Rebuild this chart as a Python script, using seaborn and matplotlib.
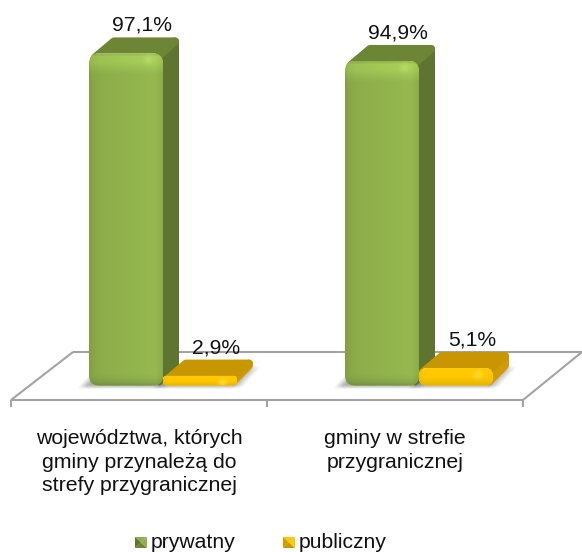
import numpy as np
import pandas as pd
import matplotlib.pyplot as plt
import seaborn as sns
from matplotlib.colors import to_rgb
from matplotlib.patches import FancyBboxPatch, Polygon
from matplotlib.transforms import IdentityTransform

categories = ["województwa, których\ngminy przynależą do\nstrefy przygranicznej",
              "gminy w strefie\nprzygranicznej"]
series_names = ["prywatny", "publiczny"]
prywatny = [97.1, 94.9]
publiczny = [2.9, 5.1]
value_labels = [["97,1%", "94,9%"], ["2,9%", "5,1%"]]

W, H = 582, 552
DEPTH = 16

# face colours per series: base, top, side
faces = {
    "prywatny": ("#8fb04b", "#6c8636", "#5d7530"),
    "publiczny": ("#ffc800", "#c79600", "#d09c00"),
}

df = pd.DataFrame({
    "category": categories * 2,
    "series": [series_names[0]] * 2 + [series_names[1]] * 2,
    "value": prywatny + publiczny,
})

sns.set_style("white")
plt.rcParams["font.family"] = ["Liberation Sans", "DejaVu Sans"]

fig = plt.figure(figsize=(W / 100, H / 100), dpi=100)
ax = fig.add_axes([0, 0, 1, 1])
sns.barplot(data=df, x="category", y="value", hue="series", hue_order=series_names,
            palette=[faces[s][0] for s in series_names], saturation=1, width=0.578,
            gap=0, legend=False, ax=ax)
ax.set_xlim(-163 / 256, (W - 163) / 256)
ax.set_ylim((385.5 - H) / 3.42, 385.5 / 3.42)
ax.set_autoscale_on(False)
ax.set_xticks([])
ax.set_yticks([])
ax.set_xlabel("")
ax.set_ylabel("")
sns.despine(ax=ax, left=True, bottom=True)

px = IdentityTransform()


def fy(y):
    return H - y


# floor
floor_col = "#a3a3a3"
for xs, ys in [([11, 523], [400, 400]), ([73, 582], [352, 352]),
               ([11, 73], [400, 352]), ([523, 582], [400, 352]),
               ([11, 11], [400, 407]), ([267, 267], [400, 407]), ([523, 523], [400, 407])]:
    ax.plot(xs, [fy(v) for v in ys], color=floor_col, lw=1.5, transform=px,
            solid_capstyle="butt", zorder=1)


def shade(col, w, h, gold=False):
    base = np.array(to_rgb(col))
    t = np.linspace(0, 1, max(w, 2))
    v = np.arange(max(h, 2))
    if gold:
        across = np.interp(t, [0, 0.05, 1], [0.95, 1, 1])
        down = np.interp(v / max(h - 1, 1), [0, 0.5, 1], [1.0, 1.0, 0.9])
    else:
        across = np.interp(t, [0, 0.04, 0.15, 0.78, 0.9, 1], [0.9, 0.95, 0.98, 1.04, 1.05, 0.98])
        down = np.interp(v, [0, 3, 9, 20, h - 12, h - 5, h - 1],
                         [1.0, 1.13, 1.12, 1.0, 1.0, 0.93, 0.82])
    return np.clip(base[None, None, :] * down[:, None, None] * across[None, :, None], 0, 1)


def draw_shadow(x0, x1, y0):
    # blurred grey shape sheared like the floor, around the foot of the bar
    x_lo, x_hi = x0 - 12, x1 + DEPTH + 14
    xs = np.arange(int(x_lo), int(x_hi))
    ys = np.arange(int(y0) - 4, int(y0) + 22)
    gx, gy = np.meshgrid(xs, ys)
    shift = (gy - y0) * 0.9
    ax_x = np.clip((gx - (x0 - 10 + shift)) / 9, 0, 1) * np.clip((x1 + 8 + shift - gx) / 11, 0, 1)
    ax_y = np.clip((gy - (y0 - 4)) / 4, 0, 1) * np.clip((y0 + 21 - gy) / 6, 0, 1)
    rgba = np.zeros((len(ys), len(xs), 4))
    rgba[..., :3] = 0.4
    rgba[..., 3] = 0.5 * ax_x * ax_y
    ax.imshow(rgba, extent=(xs[0], xs[-1], ys[0], ys[-1]), origin="lower", aspect="auto",
              transform=px, zorder=2, interpolation="bilinear")


def draw_bar(bar, label, name, z):
    base, top_col, side_col = faces[name]
    (x0, y0), (x1, y1) = ax.transData.transform(bar.get_bbox().get_points())
    gold = name == "publiczny"
    draw_shadow(x0, x1, y0)
    # side and top are inset and stroked with round joins, which rounds their corners
    inset = 4
    stroke = 2 * inset * 0.72
    left = 4 if gold else 6
    ax.add_patch(Polygon([(x1 - 4, y0 + 4), (x1 + DEPTH - inset, y0 + DEPTH + inset),
                          (x1 + DEPTH - inset, y1 + DEPTH - inset), (x1 - 4, y1 - 4)],
                         fc=side_col, ec=side_col, lw=stroke, joinstyle="round", transform=px, zorder=z))
    ax.add_patch(Polygon([(x0 + left, y1 - 4), (x0 + DEPTH + left + 3, y1 + DEPTH - inset),
                          (x1 + DEPTH - inset, y1 + DEPTH - inset), (x1 - 6, y1 - 4)],
                         fc=top_col, ec=top_col, lw=stroke, joinstyle="round", transform=px, zorder=z))
    # rounded front with shading
    rr = min(10, (y1 - y0) * 0.45)
    clip = FancyBboxPatch((x0, y0), x1 - x0, y1 - y0,
                          boxstyle=f"round,pad=0,rounding_size={rr}", fc="none", ec="none",
                          transform=px, zorder=z + 1)
    ax.add_patch(clip)
    bar.set_zorder(z + 1)
    bar.set_clip_path(clip)
    h = int(round(y1 - y0))
    w = int(round(x1 - x0))
    im = ax.imshow(shade(base, w, h, gold), extent=(x0, x1, y0, y1), origin="upper", aspect="auto",
                   transform=px, zorder=z + 2, interpolation="bilinear")
    im.set_clip_path(clip)
    # highlight at the upper right corner
    glow = "#ffe64d" if gold else "#c4e070"
    for s, a in [(90, 0.12), (45, 0.2), (15, 0.35)]:
        hl = ax.scatter([x1 - 15], [y1 - 6], s=s, color=glow, alpha=a, linewidths=0,
                        transform=px, zorder=z + 3)
        hl.set_clip_path(clip)
    ax.annotate(label, xy=(x0 + (x1 - x0) / 2 + 16, y1 + 28), xycoords=px, ha="center", va="center",
                fontsize=15.2, color="#111111", zorder=20)


for i, name in enumerate(series_names):
    for bar, label in zip(ax.containers[i], value_labels[i]):
        draw_bar(bar, label, name, 3 + 6 * i)

# category labels, centred on the front edge of the floor
for cx, text in zip([139, 395], categories):
    ax.text(cx, fy(429), text, transform=px, ha="center", va="top", fontsize=15.3,
            linespacing=1.31, color="#111111")

# legend
for lx, tx, name in zip([135, 283], [151, 299], series_names):
    base, top_col, side_col = faces[name]
    l, r, t, b = lx, lx + 12, fy(537), fy(548)
    mx, my = (l + r) / 2, (t + b) / 2
    for tri, c in [([(l, t), (r, t), (mx, my)], base), ([(l, b), (r, b), (mx, my)], top_col),
                   ([(l, t), (l, b), (mx, my)], side_col), ([(r, t), (r, b), (mx, my)], base)]:
        ax.add_patch(Polygon(tri, fc=c, ec="none", transform=px, zorder=5))
    ax.text(tx, fy(543), name, transform=px, ha="left", va="center", fontsize=15.2, color="#111111")

fig.savefig("out.png", dpi=100, facecolor="white")
